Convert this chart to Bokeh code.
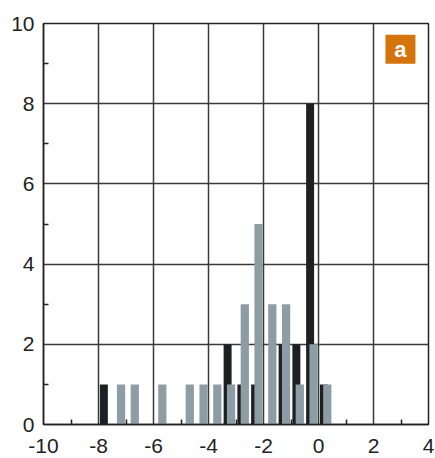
from bokeh.plotting import figure
from bokeh.models import FixedTicker, Range1d, ColumnDataSource
from bokeh.transform import dodge
from bokeh.core.properties import value
from bokeh.embed import file_html
from bokeh.resources import INLINE

# histogram bins (centres, width 0.5)
bins = [-7.75, -7.25, -6.75, -6.25, -5.75, -5.25, -4.75, -4.25, -3.75,
        -3.25, -2.75, -2.25, -1.75, -1.25, -0.75, -0.25, 0.25]
black_counts = [1, 0, 0, 0, 0, 0, 0, 0, 0, 2, 1, 1, 0, 2, 2, 8, 1]
gray_counts = [0, 1, 1, 0, 1, 0, 1, 1, 1, 1, 3, 5, 3, 3, 1, 2, 1]

x_ticks = [-10, -8, -6, -4, -2, 0, 2, 4]
x_tick_labels = ["-10", "-8", "-6", "-4", "-2", "0", "2", "4"]
x_minor = [-9, -7, -5, -3, -1, 1, 3]
y_ticks = [0, 2, 4, 6, 8, 10]
y_minor = [1, 3, 5, 7, 9]
panel_label = "a"

FONT = "Liberation Sans"
BLACK = "#1d1f23"
GRAY = "#8e9da3"
ORANGE = "#d5740b"

src = ColumnDataSource(dict(bin=bins, black=black_counts, gray=gray_counts))

p = figure(width=435, height=458, output_backend="svg", toolbar_location=None,
           x_range=Range1d(-10, 4), y_range=Range1d(0, 10),
           min_border_left=43, min_border_right=7, min_border_top=23,
           min_border_bottom=34)
p.background_fill_color = "white"
p.border_fill_color = "white"
p.outline_line_color = "#222222"
p.outline_line_width = 1.5

p.vbar(x=dodge("bin", -0.055, range=p.x_range), top="black", bottom=0,
       width=0.29, source=src, fill_color=BLACK, line_color=None)
p.vbar(x=dodge("bin", 0.07, range=p.x_range), top="gray", bottom=0,
       width=0.30, source=src, fill_color=GRAY, line_color=None)

for ax, ticks, minor in ((p.xaxis, x_ticks, x_minor), (p.yaxis, y_ticks, y_minor)):
    ax.ticker = FixedTicker(ticks=ticks, minor_ticks=minor)
    ax.major_tick_in = 0
    ax.major_tick_out = 0
    ax.minor_tick_in = 5
    ax.minor_tick_out = 0
    ax.minor_tick_line_color = "#222222"
    ax.minor_tick_line_width = 1.5
    ax.axis_line_color = "#222222"
    ax.axis_line_width = 1.5
    ax.major_label_text_font = FONT
    ax.major_label_text_font_size = "21px"
    ax.major_label_text_color = "#222222"

p.xaxis.major_label_overrides = {t: s for t, s in zip(x_ticks, x_tick_labels)}
p.xaxis.major_label_standoff = 14
p.yaxis.major_label_standoff = 9

for g in (p.xgrid, p.ygrid):
    g.grid_line_color = "#3a3a3a"
    g.grid_line_width = 1.5

# panel label box
p.rect(x=[2.98], y=[9.36], width=30, height=29, width_units="screen",
       height_units="screen", fill_color=ORANGE, line_color=None)
p.text(x=[2.98], y=[9.36], text=[panel_label], text_align="center",
       text_baseline="middle", text_color="white", text_font=value(FONT),
       text_font_size="22px", text_font_style="bold")

open("out.html", "w").write(file_html(p, INLINE))
